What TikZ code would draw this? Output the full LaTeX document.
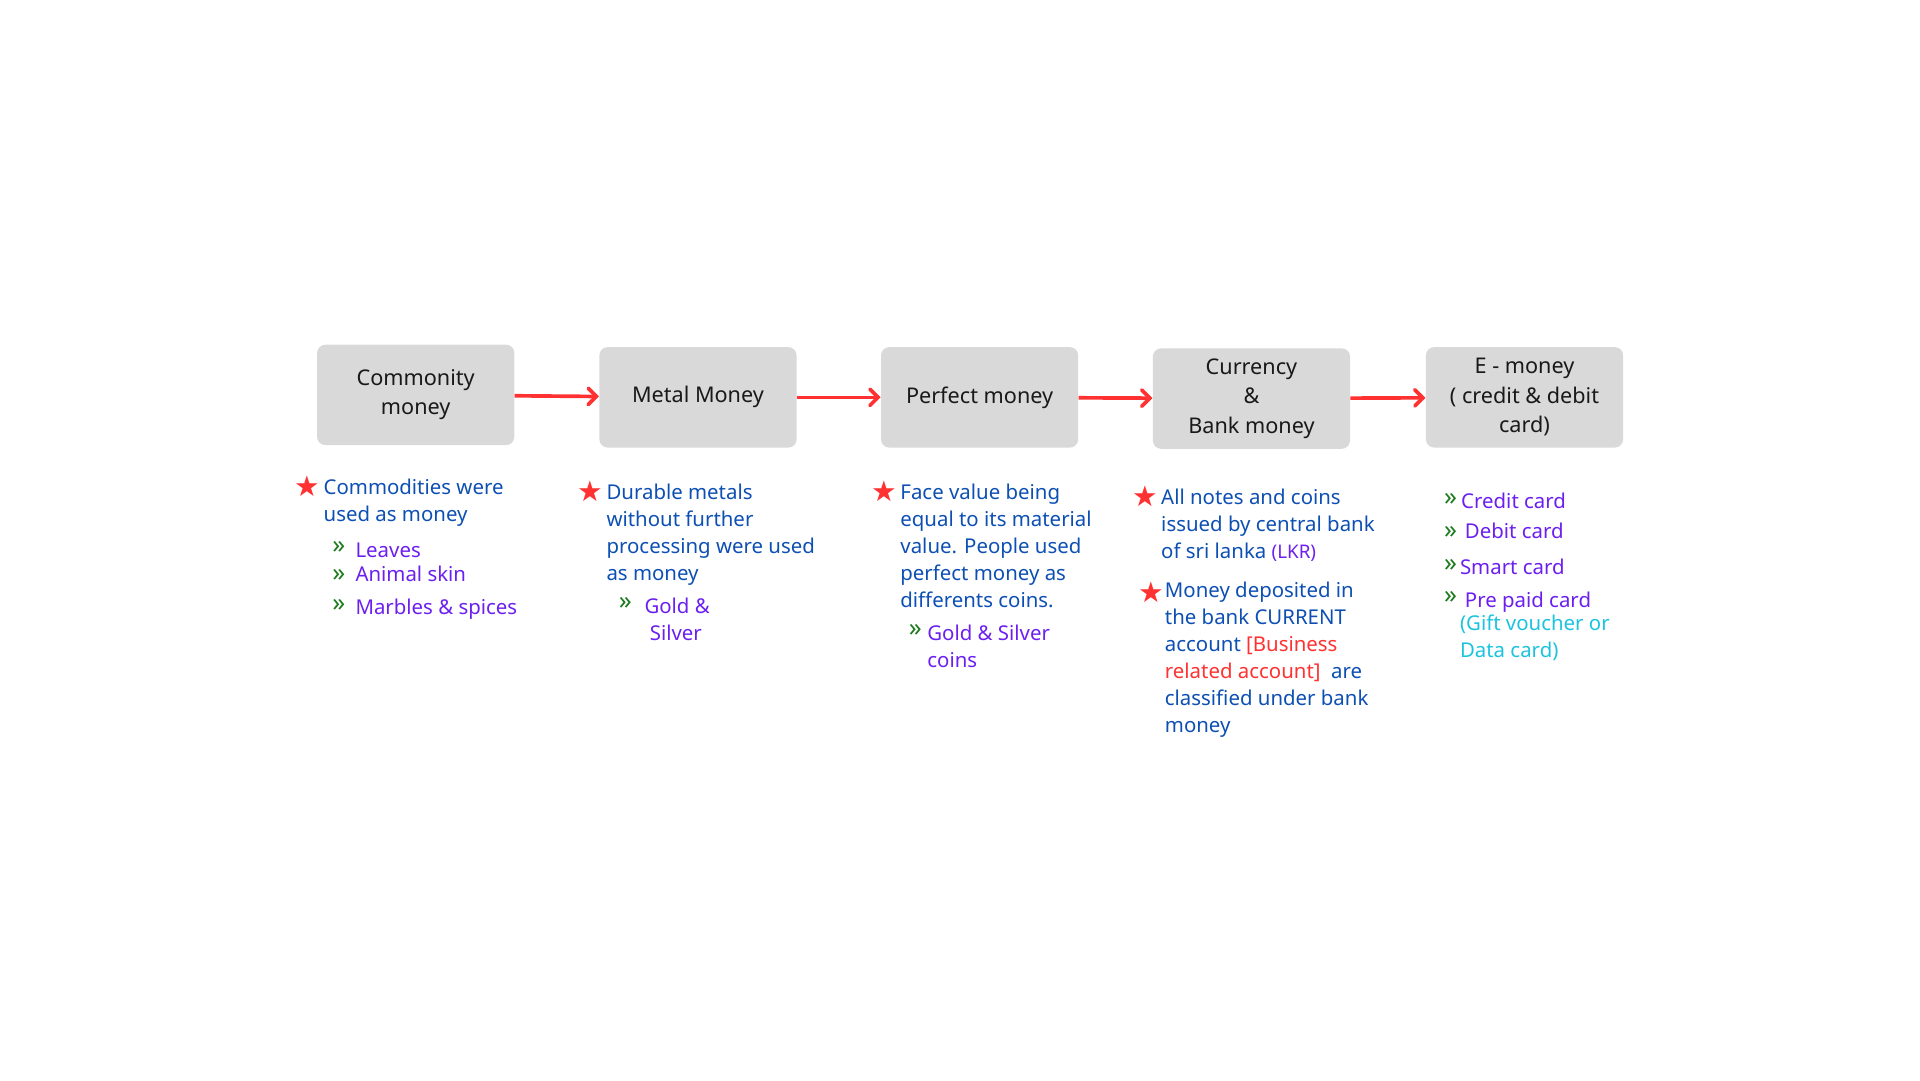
\documentclass[tikz,border=0pt]{standalone}
\usepackage{fontspec}
\setmainfont{Noto Sans}
\newfontfamily\symfont{DejaVu Sans}
\usetikzlibrary{arrows.meta}
\definecolor{boxgray}{HTML}{D9D9D9}
\definecolor{arrowred}{HTML}{FF3131}
\definecolor{textblue}{HTML}{0D4FB3}
\definecolor{itempurple}{HTML}{6B1FF0}
\definecolor{chevgreen}{HTML}{1E7B1E}
\definecolor{notecyan}{HTML}{1CC3DE}

\tikzset{
	stage/.style={rectangle, rounded corners=4pt, fill=boxgray, minimum width=96.6pt, minimum height=49.2pt, align=center, text=black!90, font=\fontsize{10.6}{14.4}\selectfont},
	flow/.style={draw=arrowred, line width=1.8pt, -{Straight Barb[length=4pt, width=8pt, line cap=round]}},
	redstar/.style={text=arrowred, inner sep=0pt, font=\symfont\fontsize{14}{14}\selectfont},
	chevron/.style={text=chevgreen, inner sep=0pt, anchor=base west, font=\bfseries\fontsize{12.5}{12.5}\selectfont},
	desc/.style={text=textblue, inner sep=0pt, anchor=north west, align=left, font=\fontsize{10}{13.2}\selectfont},
	item/.style={text=itempurple, inner sep=0pt, anchor=base west, align=left, font=\fontsize{10}{13.2}\selectfont},
	itemblock/.style={item, anchor=north west},
}

\begin{document}
\begin{tikzpicture}[x=0.6pt, y=-0.6pt]
	\useasboundingbox (0,0) rectangle (1568,882);
	% stages
	\node (commodity) at (339.5,322.5) [stage] {Commonity\\money};
	\node (metal) at (570,324.5) [stage] {Metal Money};
	\node (perfect) at (800,324.5) [stage] {Perfect money};
	\node (currency) at (1022,325.5) [stage] {Currency\\\&\\Bank money};
	\node (emoney) at (1245,324.5) [stage] {E - money\\( credit \& debit\\card)};
	\draw[flow] (commodity) -- (metal);
	\draw[flow] (metal) -- (perfect);
	\draw[flow] (perfect) -- (currency);
	\draw[flow] (currency) -- (emoney);
	% commodity money
	\node (star1) at (251,397) [redstar] {★};
	\node (desc1) at (264,391) [desc] {Commodities were\\used as money};
		\node (ch1a) at (271,452) [chevron] {»};
		\node (it1a) at (290,455) [item] {Leaves};
		\node (ch1b) at (271,475) [chevron] {»};
		\node (it1b) at (290,475) [item] {Animal skin};
		\node (ch1c) at (271,499) [chevron] {»};
		\node (it1c) at (290,502) [item] {Marbles \& spices};
	% metal money
	\node (star2) at (482,401) [redstar] {★};
	\node (desc2) at (495,395) [desc] {Durable metals\\without further\\processing were used\\as money};
		\node (ch2a) at (505,498) [chevron] {»};
		\node (it2a) at (526,488) [itemblock] {Gold \&\\\ Silver};
	% perfect money
	\node (star3) at (722,401) [redstar] {★};
	\node (desc3) at (735,395) [desc] {Face value being\\equal to its material\\value. People used\\perfect money as\\differents coins.};
		\node (ch3a) at (742,520) [chevron] {»};
		\node (it3a) at (757,510) [itemblock] {Gold \& Silver\\coins};
	% currency and bank money
	\node (star4) at (935,405) [redstar] {★};
	\node (desc4) at (948,399) [desc] {All notes and coins\\issued by central bank\\of sri lanka {\color{itempurple}\fontsize{9.2}{13.2}\selectfont(LKR)}};
	\node (star5) at (940,484) [redstar] {★};
	\node (desc5) at (951,475) [desc] {Money deposited in\\the bank CURRENT\\account {\color{arrowred}[Business}\\{\color{arrowred}related account]}\ \ are\\classified under bank\\money};
	% e-money
	\node (ch5a) at (1179,413) [chevron] {»};
	\node (it5a) at (1193,415) [item] {Credit card};
	\node (ch5b) at (1179,440) [chevron] {»};
	\node (it5b) at (1196,440) [item] {Debit card};
	\node (ch5c) at (1179,467) [chevron] {»};
	\node (it5c) at (1192,469) [item] {Smart card};
	\node (ch5d) at (1179,493) [chevron] {»};
	\node (it5d) at (1196,496) [item] {Pre paid card};
	\node (note5) at (1192,502) [itemblock, text=notecyan] {(Gift voucher or\\Data card)};
\end{tikzpicture}
\end{document}
